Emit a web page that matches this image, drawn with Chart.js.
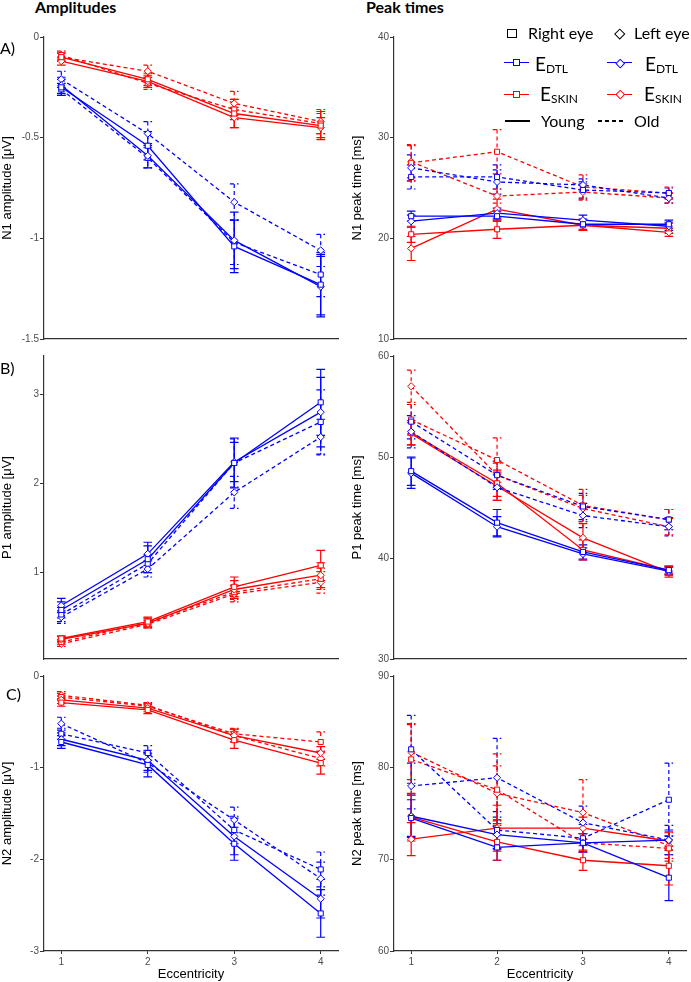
<!DOCTYPE html>
<html lang="en">
<head>
<meta charset="UTF-8">
<title>Amplitudes and peak times</title>
<script src="https://cdn.jsdelivr.net/npm/chart.js"></script>
<style>
  body { margin: 0; background: #fff; }
  #fig { position: relative; width: 691px; height: 982px; overflow: hidden; font-family: Lato, "Open Sans", sans-serif; color: #000; }
  #fig canvas { position: absolute; }
  .txt { position: absolute; white-space: nowrap; font-size: 16px; line-height: 16px; }
  .head { font-weight: bold; }
  .big { font-size: 19px; line-height: 19px; }
  .big span { font-size: 12px; position: relative; top: 2px; }
  .ln { position: absolute; height: 0; width: 25px; border-top: 1.5px solid; }
  .dash { position: absolute; height: 2px; width: 25px; background: repeating-linear-gradient(90deg, #000 0 4px, transparent 4px 7px); }
  .sq, .di { position: absolute; box-sizing: border-box; background: #fff; border: 1.3px solid; }
  .di { transform: rotate(45deg); }
</style>
</head>
<body>
<div id="fig">
  <canvas id="n1Amp" width="345" height="319" style="left:0;top:27px"></canvas>
  <canvas id="n1Time" width="341" height="319" style="left:350px;top:27px"></canvas>
  <canvas id="p1Amp" width="345" height="320" style="left:0;top:346px"></canvas>
  <canvas id="p1Time" width="341" height="320" style="left:350px;top:346px"></canvas>
  <canvas id="n2Amp" width="345" height="316" style="left:0;top:666px"></canvas>
  <canvas id="n2Time" width="341" height="316" style="left:350px;top:666px"></canvas>

  <div class="txt head" style="left:35px;top:-1px">Amplitudes</div>
  <div class="txt head" style="left:366px;top:-1px">Peak times</div>
  <div class="txt" style="left:0;top:40px">A)</div>
  <div class="txt" style="left:0;top:360px">B)</div>
  <div class="txt" style="left:6px;top:686px">C)</div>

  <!-- legend -->
  <div class="sq" style="left:507px;top:29px;width:10px;height:9px;border-color:#000;background:none"></div>
  <div class="txt" style="left:528px;top:25px">Right eye</div>
  <div class="di" style="left:616px;top:29.5px;width:7.5px;height:7.5px;border-color:#000;background:none"></div>
  <div class="txt" style="left:634px;top:25px">Left eye</div>

  <div class="ln" style="left:504px;top:62px;border-color:#0000ff"></div>
  <div class="sq" style="left:513px;top:59px;width:7px;height:7px;border-color:#0000ff"></div>
  <div class="txt big" style="left:535px;top:54px">E<span>DTL</span></div>
  <div class="ln" style="left:607px;top:62px;border-color:#0000ff"></div>
  <div class="di" style="left:616.5px;top:59.5px;width:6.5px;height:6.5px;border-color:#0000ff"></div>
  <div class="txt big" style="left:645px;top:54px">E<span>DTL</span></div>

  <div class="ln" style="left:504px;top:93.5px;border-color:#ff0000"></div>
  <div class="sq" style="left:513px;top:90.5px;width:7px;height:7px;border-color:#ff0000"></div>
  <div class="txt big" style="left:540px;top:84px">E<span>SKIN</span></div>
  <div class="ln" style="left:607px;top:93.5px;border-color:#ff0000"></div>
  <div class="di" style="left:616.5px;top:91px;width:6.5px;height:6.5px;border-color:#ff0000"></div>
  <div class="txt big" style="left:644px;top:84px">E<span>SKIN</span></div>

  <div class="ln" style="left:505px;top:120px;border-top-width:2px;border-color:#000"></div>
  <div class="txt" style="left:541px;top:113px">Young</div>
  <div class="dash" style="left:598px;top:120px"></div>
  <div class="txt" style="left:634px;top:113px">Old</div>
</div>

<script>
  // eccentricity levels (x axis)
  const eccentricity = [1, 2, 3, 4];

  // tick labels
  const n1AmpTicks = [0, -0.5, -1, -1.5];
  const p1AmpTicks = [1, 2, 3];
  const n2AmpTicks = [0, -1, -2, -3];
  const n1TimeTicks = [10, 20, 30, 40];
  const p1TimeTicks = [30, 40, 50, 60];
  const n2TimeTicks = [60, 70, 80, 90];

  // N1 amplitude [uV], mean and error per group
  const n1AmpDtlRY = [-0.25, -0.54, -1.04, -1.23], n1AmpDtlRYErr = [0.04, 0.07, 0.13, 0.15];
  const n1AmpDtlLY = [-0.24, -0.59, -1.01, -1.24], n1AmpDtlLYErr = [0.04, 0.06, 0.14, 0.15];
  const n1AmpDtlRO = [-0.26, -0.60, -1.02, -1.18], n1AmpDtlROErr = [0.03, 0.05, 0.11, 0.11];
  const n1AmpDtlLO = [-0.21, -0.48, -0.82, -1.06], n1AmpDtlLOErr = [0.04, 0.06, 0.09, 0.08];
  const n1AmpSkinRY = [-0.10, -0.21, -0.38, -0.44], n1AmpSkinRYErr = [0.02, 0.03, 0.07, 0.07];
  const n1AmpSkinLY = [-0.12, -0.22, -0.40, -0.45], n1AmpSkinLYErr = [0.02, 0.03, 0.05, 0.05];
  const n1AmpSkinRO = [-0.09, -0.23, -0.36, -0.43], n1AmpSkinROErr = [0.02, 0.03, 0.05, 0.05];
  const n1AmpSkinLO = [-0.10, -0.17, -0.33, -0.42], n1AmpSkinLOErr = [0.02, 0.03, 0.06, 0.06];

  // N1 peak time [ms]
  const n1TimeDtlRY = [22.2, 22.2, 21.4, 21.4], n1TimeDtlRYErr = [0.5, 0.5, 0.5, 0.4];
  const n1TimeDtlLY = [21.7, 22.5, 21.8, 21.2], n1TimeDtlLYErr = [0.6, 0.5, 0.5, 0.4];
  const n1TimeDtlRO = [26.1, 26.1, 24.8, 24.5], n1TimeDtlROErr = [1.2, 1.2, 0.8, 0.5];
  const n1TimeDtlLO = [27.0, 25.6, 25.3, 24.0], n1TimeDtlLOErr = [1.3, 1.2, 0.6, 0.5];
  const n1TimeSkinRY = [20.4, 20.9, 21.3, 21.0], n1TimeSkinRYErr = [0.8, 0.9, 0.5, 0.5];
  const n1TimeSkinLY = [19.0, 22.9, 21.3, 20.6], n1TimeSkinLYErr = [1.2, 1.0, 0.5, 0.4];
  const n1TimeSkinRO = [27.5, 28.6, 25.1, 24.5], n1TimeSkinROErr = [1.8, 2.2, 1.2, 0.6];
  const n1TimeSkinLO = [27.6, 24.2, 24.6, 24.0], n1TimeSkinLOErr = [1.6, 0.7, 0.8, 0.5];

  // P1 amplitude [uV]
  const p1AmpDtlRY = [0.58, 1.15, 2.23, 2.91], p1AmpDtlRYErr = [0.09, 0.15, 0.28, 0.37];
  const p1AmpDtlLY = [0.63, 1.21, 2.24, 2.80], p1AmpDtlLYErr = [0.08, 0.13, 0.22, 0.39];
  const p1AmpDtlRO = [0.53, 1.10, 2.23, 2.69], p1AmpDtlROErr = [0.08, 0.10, 0.27, 0.36];
  const p1AmpDtlLO = [0.50, 1.04, 1.90, 2.52], p1AmpDtlLOErr = [0.07, 0.09, 0.18, 0.20];
  const p1AmpSkinRY = [0.26, 0.45, 0.84, 1.08], p1AmpSkinRYErr = [0.03, 0.05, 0.11, 0.17];
  const p1AmpSkinLY = [0.25, 0.43, 0.81, 0.97], p1AmpSkinLYErr = [0.03, 0.05, 0.10, 0.14];
  const p1AmpSkinRO = [0.22, 0.44, 0.78, 0.93], p1AmpSkinROErr = [0.03, 0.05, 0.08, 0.12];
  const p1AmpSkinLO = [0.20, 0.42, 0.76, 0.89], p1AmpSkinLOErr = [0.03, 0.04, 0.09, 0.12];

  // P1 peak time [ms]
  const p1TimeDtlRY = [48.6, 43.5, 40.6, 38.8], p1TimeDtlRYErr = [1.4, 1.3, 0.7, 0.4];
  const p1TimeDtlLY = [48.4, 43.1, 40.4, 38.7], p1TimeDtlLYErr = [1.5, 1.0, 0.6, 0.4];
  const p1TimeDtlRO = [53.5, 48.2, 45.1, 43.8], p1TimeDtlROErr = [1.7, 1.4, 1.3, 1.0];
  const p1TimeDtlLO = [52.5, 47.0, 44.2, 43.1], p1TimeDtlLOErr = [1.6, 1.3, 1.2, 0.9];
  const p1TimeSkinRY = [52.4, 47.4, 40.8, 38.8], p1TimeSkinRYErr = [1.2, 1.3, 1.0, 0.4];
  const p1TimeSkinLY = [52.3, 47.1, 42.0, 38.6], p1TimeSkinLYErr = [1.1, 1.4, 1.4, 0.5];
  const p1TimeSkinRO = [53.7, 49.7, 45.2, 43.8], p1TimeSkinROErr = [1.5, 2.2, 1.6, 1.0];
  const p1TimeSkinLO = [57.0, 48.2, 44.9, 43.1], p1TimeSkinLOErr = [1.6, 1.2, 1.3, 0.8];

  // N2 amplitude [uV]
  const n2AmpDtlRY = [-0.72, -0.97, -1.83, -2.59], n2AmpDtlRYErr = [0.07, 0.13, 0.18, 0.26];
  const n2AmpDtlLY = [-0.69, -0.92, -1.75, -2.43], n2AmpDtlLYErr = [0.07, 0.11, 0.20, 0.21];
  const n2AmpDtlRO = [-0.63, -0.84, -1.68, -2.11], n2AmpDtlROErr = [0.06, 0.08, 0.15, 0.19];
  const n2AmpDtlLO = [-0.52, -0.95, -1.57, -2.21], n2AmpDtlLOErr = [0.07, 0.10, 0.14, 0.18];
  const n2AmpSkinRY = [-0.29, -0.37, -0.70, -0.95], n2AmpSkinRYErr = [0.04, 0.04, 0.09, 0.12];
  const n2AmpSkinLY = [-0.26, -0.35, -0.65, -0.84], n2AmpSkinLYErr = [0.04, 0.04, 0.07, 0.07];
  const n2AmpSkinRO = [-0.23, -0.33, -0.63, -0.72], n2AmpSkinROErr = [0.04, 0.03, 0.06, 0.11];
  const n2AmpSkinLO = [-0.21, -0.32, -0.65, -0.90], n2AmpSkinLOErr = [0.04, 0.03, 0.07, 0.08];

  // N2 peak time [ms]
  const n2TimeDtlRY = [74.5, 71.3, 71.8, 68.0], n2TimeDtlRYErr = [2.0, 1.4, 1.0, 2.5];
  const n2TimeDtlLY = [74.7, 72.7, 71.8, 72.1], n2TimeDtlLYErr = [2.3, 1.6, 1.0, 1.1];
  const n2TimeDtlRO = [82.0, 73.2, 72.3, 76.5], n2TimeDtlROErr = [3.7, 2.0, 1.5, 4.0];
  const n2TimeDtlLO = [78.0, 78.9, 74.0, 72.1], n2TimeDtlLOErr = [2.5, 4.3, 1.8, 1.6];
  const n2TimeSkinRY = [74.6, 71.9, 69.9, 69.3], n2TimeSkinRYErr = [2.6, 2.0, 1.1, 2.1];
  const n2TimeSkinLY = [72.2, 73.4, 73.4, 72.0], n2TimeSkinLYErr = [1.8, 2.5, 1.2, 1.0];
  const n2TimeSkinRO = [80.9, 77.6, 71.8, 71.2], n2TimeSkinROErr = [3.9, 3.9, 1.0, 1.4];
  const n2TimeSkinLO = [81.7, 77.2, 75.1, 71.5], n2TimeSkinLOErr = [3.0, 3.0, 3.6, 1.4];

  // group order: electrode, eye, age
  const groups = [
    ['DTL', 'R', 'Y'], ['DTL', 'L', 'Y'], ['DTL', 'R', 'O'], ['DTL', 'L', 'O'],
    ['SKIN', 'R', 'Y'], ['SKIN', 'L', 'Y'], ['SKIN', 'R', 'O'], ['SKIN', 'L', 'O']
  ];

  // vertical error bars with caps, drawn below the markers
  const errorBars = {
    id: 'errorBars',
    beforeDatasetsDraw(chart) {
      const { ctx, scales: { x, y } } = chart;
      const cap = x.getPixelForValue(1.05) - x.getPixelForValue(1);
      chart.data.datasets.forEach(ds => {
        ctx.save();
        ctx.strokeStyle = ds.borderColor;
        ctx.lineWidth = 1.2;
        ctx.setLineDash(ds.borderDash);
        ds.data.forEach((p, j) => {
          const px = x.getPixelForValue(p.x);
          const top = y.getPixelForValue(p.y + ds.errors[j]);
          const bot = y.getPixelForValue(p.y - ds.errors[j]);
          ctx.beginPath();
          ctx.moveTo(px, top); ctx.lineTo(px, bot);
          ctx.moveTo(px - cap, top); ctx.lineTo(px + cap, top);
          ctx.moveTo(px - cap, bot); ctx.lineTo(px + cap, bot);
          ctx.stroke();
        });
        ctx.restore();
      });
    }
  };

  function makePanel(id, series, yMin, yMax, yTicks, yTitle, leftCol, bottomRow) {
    const datasets = series.map(([mean, err], i) => {
      const [el, eye, age] = groups[i];
      const color = el === 'DTL' ? '#0000ff' : '#ff0000';
      return {
        data: mean.map((v, j) => ({ x: eccentricity[j], y: v })),
        errors: err,
        borderColor: color,
        backgroundColor: '#ffffff',
        borderWidth: 1.3,
        borderDash: age === 'O' ? [4, 3] : [],
        pointStyle: eye === 'R' ? 'rect' : 'rectRot',
        pointRadius: eye === 'R' ? 3.6 : 3.6,
        pointBorderWidth: 1,
        pointBorderColor: color,
        pointBackgroundColor: '#ffffff',
        tension: 0
      };
    });
    const tickFont = { family: 'Liberation Sans', size: 10 };
    const titleFont = { family: 'Liberation Sans', size: 13 };
    new Chart(document.getElementById(id), {
      type: 'line',
      data: { datasets },
      options: {
        responsive: false,
        animation: false,
        layout: { padding: { left: 0, right: leftCol ? 7 : 1, top: 10, bottom: bottomRow ? 0 : 7 } },
        plugins: { legend: { display: false }, tooltip: { enabled: false } },
        scales: {
          x: {
            type: 'linear',
            min: 0.8,
            max: 4.2,
            afterBuildTicks: s => { s.ticks = eccentricity.map(v => ({ value: v })); },
            afterFit: s => { s.height = bottomRow ? 31 : 0; },
            ticks: { display: bottomRow, font: tickFont, color: '#4d4d4d', padding: 2, callback: v => String(v) },
            grid: { display: bottomRow, drawOnChartArea: false, drawTicks: true, tickLength: 3, color: '#333' },
            border: { display: true, color: '#333', width: 1.2 },
            title: { display: bottomRow, text: 'Eccentricity', font: titleFont, color: '#000', padding: { top: 0, bottom: 0 } }
          },
          y: {
            min: yMin,
            max: yMax,
            afterBuildTicks: s => { s.ticks = yTicks.map(v => ({ value: v })); },
            afterFit: s => { s.width = 44; },
            ticks: { font: tickFont, color: '#4d4d4d', padding: 1, callback: v => String(v) },
            grid: { drawOnChartArea: false, drawTicks: true, tickLength: 4, color: '#333' },
            border: { display: true, color: '#333', width: 1.2 },
            title: { display: true, text: yTitle, font: titleFont, color: '#000', padding: 0 }
          }
        }
      },
      plugins: [errorBars]
    });
  }

  makePanel('n1Amp', [
    [n1AmpDtlRY, n1AmpDtlRYErr], [n1AmpDtlLY, n1AmpDtlLYErr], [n1AmpDtlRO, n1AmpDtlROErr], [n1AmpDtlLO, n1AmpDtlLOErr],
    [n1AmpSkinRY, n1AmpSkinRYErr], [n1AmpSkinLY, n1AmpSkinLYErr], [n1AmpSkinRO, n1AmpSkinROErr], [n1AmpSkinLO, n1AmpSkinLOErr]
  ], -1.5, 0, n1AmpTicks, 'N1 amplitude [\u03bcV]', true, false);

  makePanel('n1Time', [
    [n1TimeDtlRY, n1TimeDtlRYErr], [n1TimeDtlLY, n1TimeDtlLYErr], [n1TimeDtlRO, n1TimeDtlROErr], [n1TimeDtlLO, n1TimeDtlLOErr],
    [n1TimeSkinRY, n1TimeSkinRYErr], [n1TimeSkinLY, n1TimeSkinLYErr], [n1TimeSkinRO, n1TimeSkinROErr], [n1TimeSkinLO, n1TimeSkinLOErr]
  ], 10, 40, n1TimeTicks, 'N1 peak time [ms]', false, false);

  makePanel('p1Amp', [
    [p1AmpDtlRY, p1AmpDtlRYErr], [p1AmpDtlLY, p1AmpDtlLYErr], [p1AmpDtlRO, p1AmpDtlROErr], [p1AmpDtlLO, p1AmpDtlLOErr],
    [p1AmpSkinRY, p1AmpSkinRYErr], [p1AmpSkinLY, p1AmpSkinLYErr], [p1AmpSkinRO, p1AmpSkinROErr], [p1AmpSkinLO, p1AmpSkinLOErr]
  ], 0.03, 3.43, p1AmpTicks, 'P1 amplitude [\u03bcV]', true, false);

  makePanel('p1Time', [
    [p1TimeDtlRY, p1TimeDtlRYErr], [p1TimeDtlLY, p1TimeDtlLYErr], [p1TimeDtlRO, p1TimeDtlROErr], [p1TimeDtlLO, p1TimeDtlLOErr],
    [p1TimeSkinRY, p1TimeSkinRYErr], [p1TimeSkinLY, p1TimeSkinLYErr], [p1TimeSkinRO, p1TimeSkinROErr], [p1TimeSkinLO, p1TimeSkinLOErr]
  ], 30, 60, p1TimeTicks, 'P1 peak time [ms]', false, false);

  makePanel('n2Amp', [
    [n2AmpDtlRY, n2AmpDtlRYErr], [n2AmpDtlLY, n2AmpDtlLYErr], [n2AmpDtlRO, n2AmpDtlROErr], [n2AmpDtlLO, n2AmpDtlLOErr],
    [n2AmpSkinRY, n2AmpSkinRYErr], [n2AmpSkinLY, n2AmpSkinLYErr], [n2AmpSkinRO, n2AmpSkinROErr], [n2AmpSkinLO, n2AmpSkinLOErr]
  ], -3, 0, n2AmpTicks, 'N2 amplitude [\u03bcV]', true, true);

  makePanel('n2Time', [
    [n2TimeDtlRY, n2TimeDtlRYErr], [n2TimeDtlLY, n2TimeDtlLYErr], [n2TimeDtlRO, n2TimeDtlROErr], [n2TimeDtlLO, n2TimeDtlLOErr],
    [n2TimeSkinRY, n2TimeSkinRYErr], [n2TimeSkinLY, n2TimeSkinLYErr], [n2TimeSkinRO, n2TimeSkinROErr], [n2TimeSkinLO, n2TimeSkinLOErr]
  ], 60, 90, n2TimeTicks, 'N2 peak time [ms]', false, true);
</script>
</body>
</html>
